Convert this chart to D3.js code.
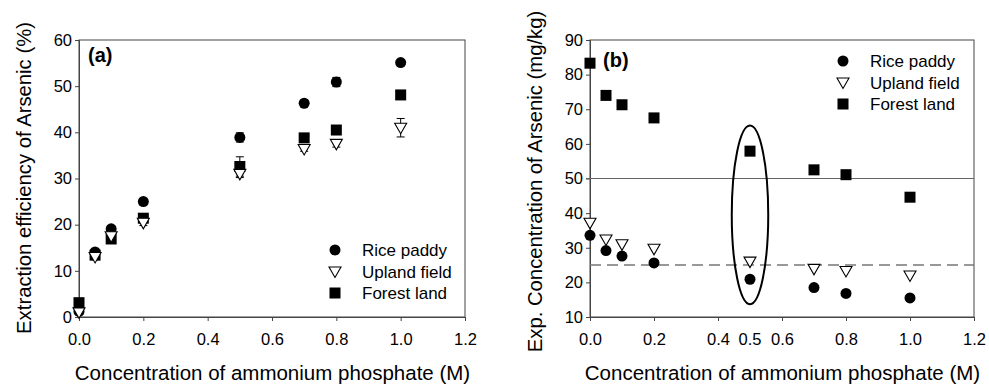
<!DOCTYPE html>
<html lang="en">
<head>
<meta charset="UTF-8">
<script src="https://cdn.jsdelivr.net/npm/d3@7"></script>
<style>
  body { margin: 0; background: #fff; }
  text { font-family: "Liberation Sans", Arial, sans-serif; fill: #000; }
</style>
</head>
<body>
<script>
// concentrations of ammonium phosphate (M)
const conc = [0, 0.05, 0.1, 0.2, 0.5, 0.7, 0.8, 1.0]
const seriesNames = ["Rice paddy", "Upland field", "Forest land"]

// (a) extraction efficiency (%)
const effRice = [1.2, 14.1, 19.1, 25.0, 38.9, 46.3, 50.9, 55.1]
const effUpland = [1.0, 13.0, 17.5, 20.4, 31.0, 36.4, 37.5, 41.0]
const effForest = [3.1, 13.4, 16.9, 21.4, 32.6, 38.8, 40.5, 48.1]
const errRice = [0.3, 0.6, 0.6, 0.7, 1.0, 0.5, 1.0, 0.5]
const errUpland = [0.3, 0.6, 0.5, 0.6, 0.8, 0.5, 0.7, 2.0]
const errForest = [0.3, 0.6, 0.6, 0.6, 2.1, 0.5, 0.5, 0.5]

// (b) expected concentration (mg/kg)
const expRice = [33.6, 29.2, 27.6, 25.6, 20.9, 18.5, 16.8, 15.5]
const expUpland = [37.2, 32.4, 31.0, 29.7, 26.0, 23.9, 23.3, 22.0]
const expForest = [83.3, 74.0, 71.3, 67.5, 57.9, 52.5, 51.1, 44.6]

const xTicks = [0, 0.2, 0.4, 0.6, 0.8, 1.0, 1.2]
const yTicksA = [0, 10, 20, 30, 40, 50, 60]
const yTicksB = [10, 20, 30, 40, 50, 60, 70, 80, 90]
const refLines = [50, 25]

const width = 989, height = 390
const svg = d3.select("body").append("svg")
    .attr("width", width)
    .attr("height", height)

const axisColor = "#444"

function marker(g, kind, x, y) {
    if (kind === 0) {
        g.append("circle").attr("cx", x).attr("cy", y).attr("r", 5.5).attr("fill", "#000")
    } else if (kind === 1) {
        g.append("path")
            .attr("d", `M${x - 6},${y - 4.5}L${x + 6},${y - 4.5}L${x},${y + 6}Z`)
            .attr("fill", "#fff").attr("stroke", "#000").attr("stroke-width", 1.1)
    } else {
        g.append("rect").attr("x", x - 5.5).attr("y", y - 5.5)
            .attr("width", 11).attr("height", 11).attr("fill", "#000")
    }
}

function panel(opts) {
    const {left, right, top, bottom, yDomain, yTicks, series, errors, label, labelPos, legendPos, yTitle, yTitleX, yTitleY, xTitleX} = opts
    const x = d3.scaleLinear().domain([0, 1.2]).range([left, right])
    const y = d3.scaleLinear().domain(yDomain).range([bottom, top])
    const g = svg.append("g")

    // frame
    g.append("rect").attr("x", left).attr("y", top)
        .attr("width", right - left).attr("height", bottom - top)
        .attr("fill", "none").attr("stroke", axisColor).attr("stroke-width", 1)

    const xAxis = g.append("g").attr("transform", `translate(0,${bottom})`)
        .call(d3.axisBottom(x).tickValues(xTicks).tickFormat(d3.format(".1f")).tickSize(4).tickPadding(12))
    const yAxis = g.append("g").attr("transform", `translate(${left},0)`)
        .call(d3.axisLeft(y).tickValues(yTicks).tickSize(4).tickPadding(3))
    for (const ax of [xAxis, yAxis]) {
        ax.select(".domain").attr("stroke", axisColor)
        ax.selectAll(".tick line").attr("stroke", axisColor)
        ax.selectAll(".tick text").attr("font-size", 16.5)
            .attr("font-family", "Liberation Sans, Arial, sans-serif").attr("fill", "#000")
    }

    if (opts.extra) opts.extra(g, x, y, xAxis)

    // error bars
    if (errors) {
        series.forEach((vals, si) => {
            vals.forEach((v, i) => {
                const e = errors[si][i]
                const cx = x(conc[i])
                g.append("line").attr("x1", cx).attr("x2", cx)
                    .attr("y1", y(v - e)).attr("y2", y(v + e)).attr("stroke", "#000")
                for (const yy of [v - e, v + e]) {
                    g.append("line").attr("x1", cx - 4).attr("x2", cx + 4)
                        .attr("y1", y(yy)).attr("y2", y(yy)).attr("stroke", "#000")
                }
            })
        })
    }

    // points: rice, forest, then upland on top
    ;[0, 2, 1].forEach(si => {
        series[si].forEach((v, i) => marker(g, si, x(conc[i]), y(v)))
    })

    // panel label
    g.append("text").attr("x", labelPos[0]).attr("y", labelPos[1])
        .attr("font-size", 20).attr("font-weight", "bold").text(label)

    // legend
    seriesNames.forEach((name, i) => {
        const ly = legendPos[1] + i * 21.5
        marker(g, i, legendPos[0], ly)
        g.append("text").attr("x", legendPos[0] + 27).attr("y", ly + 6)
            .attr("font-size", 17).text(name)
    })

    // titles
    g.append("text").attr("x", xTitleX).attr("y", 380)
        .attr("text-anchor", "middle").attr("font-size", 20.5)
        .text("Concentration of ammonium phosphate (M)")
    g.append("text")
        .attr("transform", `translate(${yTitleX},${yTitleY}) rotate(-90)`)
        .attr("text-anchor", "middle").attr("font-size", 20.3)
        .text(yTitle)
}

panel({
    left: 79, right: 465, top: 40, bottom: 317,
    yDomain: [0, 60], yTicks: yTicksA,
    series: [effRice, effUpland, effForest],
    errors: [errRice, errUpland, errForest],
    label: "(a)", labelPos: [88, 62],
    legendPos: [335, 250],
    yTitle: "Extraction efficiency of Arsenic (%)", yTitleX: 31, yTitleY: 178,
    xTitleX: 272.5
})

panel({
    left: 590, right: 974, top: 40, bottom: 317,
    yDomain: [10, 90], yTicks: yTicksB,
    series: [expRice, expUpland, expForest],
    label: "(b)", labelPos: [603, 67],
    legendPos: [843, 61],
    yTitle: "Exp. Concentration of Arsenic (mg/kg)", yTitleX: 542, yTitleY: 181.5,
    xTitleX: 782.5,
    extra: (g, x, y, xAxis) => {
        g.append("line").attr("x1", x(0) - 4).attr("x2", x(1.2))
            .attr("y1", y(refLines[0])).attr("y2", y(refLines[0]))
            .attr("stroke", "#666").attr("stroke-width", 1.2)
        g.append("line").attr("x1", x(0)).attr("x2", x(1.2))
            .attr("y1", y(refLines[1])).attr("y2", y(refLines[1]))
            .attr("stroke", "#777").attr("stroke-width", 1.5)
            .attr("stroke-dasharray", "11,6")
        // ellipse around 0.5 M
        g.append("ellipse").attr("cx", x(0.5)).attr("cy", y(39.5))
            .attr("rx", x(0.557) - x(0.5)).attr("ry", y(13.7) - y(39.5))
            .attr("fill", "none").attr("stroke", "#000").attr("stroke-width", 2)
        xAxis.append("text").attr("x", x(0.5)).attr("y", 16).attr("dy", "0.71em")
            .attr("text-anchor", "middle").attr("font-size", 16.5)
            .attr("font-family", "Liberation Sans, Arial, sans-serif").attr("fill", "#000")
            .text("0.5")
    }
})
</script>
</body>
</html>
